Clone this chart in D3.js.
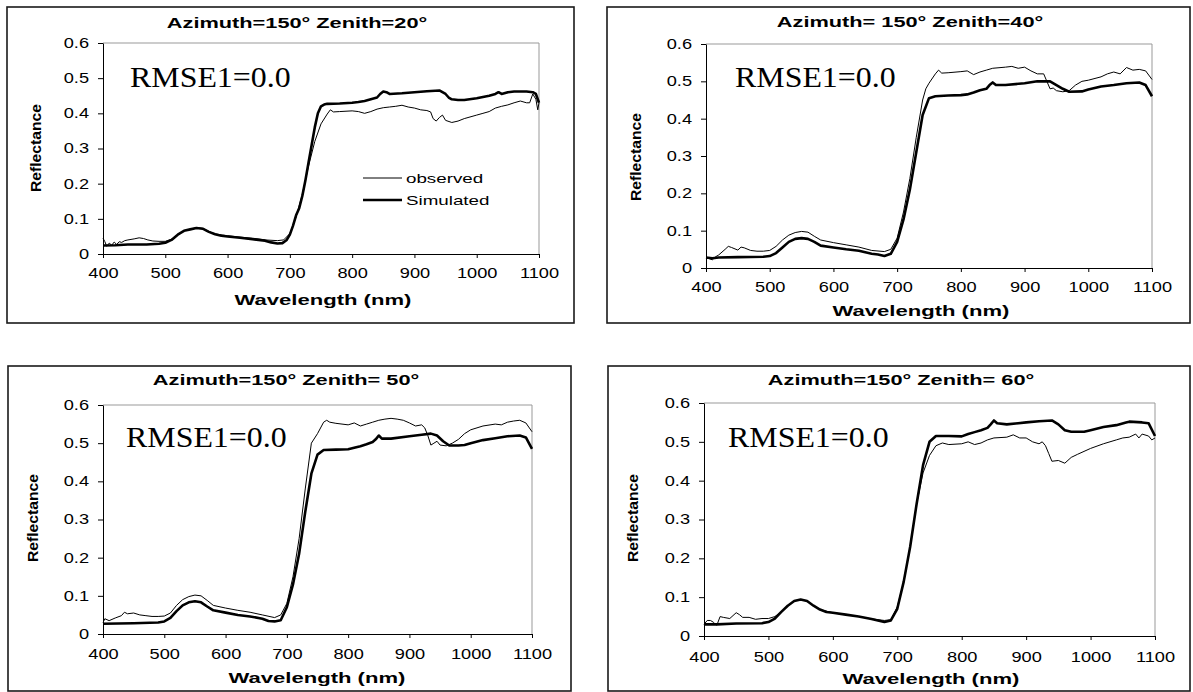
<!DOCTYPE html>
<html>
<head>
<meta charset="utf-8">
<script src="https://cdn.jsdelivr.net/npm/d3@7"></script>
<style>
  body { margin: 0; background: #fff; }
  svg { display: block; }
</style>
</head>
<body>
<div id="chart"></div>
<script>
const width = 1193;
const height = 692;

// shared text / ticks
const titles = [
  "Azimuth=150° Zenith=20°",
  "Azimuth= 150° Zenith=40°",
  "Azimuth=150° Zenith= 50°",
  "Azimuth=150° Zenith= 60°"
];
const xTicks = [400, 500, 600, 700, 800, 900, 1000, 1100];
const yTicks = [0, 0.1, 0.2, 0.3, 0.4, 0.5, 0.6];
const rmseLabel = "RMSE1=0.0";
const legendLabels = ["observed", "Simulated"];

// [wavelength nm, reflectance]
const obs20 = [[400,0.045],[403,0.035],[406,0.022],[410,0.031],[414,0.025],[418,0.034],[422,0.027],[426,0.035],[430,0.033],[435,0.038],[440,0.04],[450,0.043],[458,0.046],[465,0.044],[472,0.04],[480,0.037],[490,0.036],[500,0.036],[510,0.042],[520,0.055],[530,0.066],[540,0.07],[550,0.075],[560,0.073],[570,0.064],[580,0.057],[600,0.052],[620,0.048],[640,0.045],[660,0.04],[680,0.038],[690,0.04],[700,0.058],[710,0.105],[720,0.17],[730,0.25],[740,0.32],[750,0.37],[760,0.398],[765,0.41],[770,0.404],[780,0.405],[800,0.407],[810,0.405],[820,0.4],[830,0.405],[840,0.412],[850,0.416],[860,0.418],[870,0.42],[880,0.423],[890,0.418],[900,0.415],[910,0.41],[920,0.408],[926,0.404],[930,0.385],[935,0.378],[940,0.388],[945,0.395],[950,0.38],[960,0.374],[970,0.378],[980,0.385],[1000,0.395],[1010,0.4],[1020,0.405],[1030,0.415],[1040,0.42],[1050,0.424],[1060,0.43],[1070,0.435],[1080,0.43],[1085,0.43],[1090,0.455],[1095,0.44],[1098,0.41],[1100,0.43]];
const sim20 = [[400,0.024],[420,0.025],[440,0.027],[470,0.027],[490,0.029],[500,0.032],[510,0.04],[520,0.055],[530,0.066],[540,0.07],[550,0.074],[560,0.072],[570,0.063],[580,0.056],[590,0.052],[600,0.05],[620,0.046],[640,0.042],[660,0.038],[670,0.033],[680,0.03],[688,0.031],[695,0.04],[700,0.055],[705,0.08],[710,0.11],[715,0.13],[720,0.165],[725,0.21],[730,0.26],[735,0.31],[740,0.36],[745,0.4],[750,0.42],[755,0.425],[760,0.427],[780,0.428],[800,0.43],[810,0.432],[820,0.435],[830,0.44],[840,0.445],[845,0.455],[850,0.462],[855,0.46],[860,0.455],[880,0.457],[900,0.46],[920,0.463],[940,0.465],[950,0.455],[955,0.445],[960,0.44],[970,0.438],[980,0.438],[1000,0.443],[1020,0.45],[1030,0.455],[1035,0.46],[1040,0.455],[1050,0.46],[1060,0.462],[1080,0.462],[1090,0.46],[1095,0.455],[1100,0.43]];

const obs40 = [[400,0.028],[405,0.025],[410,0.022],[415,0.03],[420,0.035],[430,0.05],[435,0.058],[440,0.055],[450,0.048],[455,0.056],[460,0.054],[470,0.047],[480,0.045],[490,0.045],[500,0.047],[510,0.058],[520,0.075],[530,0.088],[540,0.095],[550,0.098],[560,0.096],[570,0.085],[580,0.075],[600,0.068],[620,0.062],[640,0.056],[660,0.047],[680,0.044],[690,0.05],[700,0.08],[710,0.15],[720,0.24],[730,0.35],[740,0.45],[745,0.48],[750,0.495],[760,0.52],[765,0.53],[770,0.522],[780,0.523],[800,0.526],[810,0.528],[820,0.518],[830,0.525],[840,0.53],[850,0.535],[870,0.538],[880,0.54],[890,0.535],[900,0.538],[910,0.528],[920,0.52],[930,0.52],[935,0.5],[940,0.48],[945,0.482],[950,0.475],[960,0.472],[970,0.475],[980,0.49],[990,0.5],[1000,0.503],[1020,0.512],[1030,0.52],[1040,0.525],[1050,0.52],[1060,0.537],[1070,0.53],[1080,0.532],[1090,0.528],[1100,0.505]];
const sim40 = [[400,0.028],[410,0.026],[420,0.028],[450,0.029],[490,0.03],[500,0.032],[510,0.04],[520,0.055],[530,0.07],[540,0.078],[550,0.08],[560,0.078],[570,0.07],[580,0.06],[600,0.055],[620,0.05],[640,0.046],[660,0.038],[670,0.036],[680,0.032],[690,0.038],[700,0.07],[710,0.13],[720,0.21],[730,0.31],[740,0.41],[750,0.455],[760,0.46],[780,0.462],[800,0.463],[810,0.465],[820,0.47],[830,0.476],[840,0.48],[845,0.49],[850,0.497],[855,0.49],[870,0.49],[900,0.495],[920,0.5],[940,0.5],[950,0.49],[960,0.48],[970,0.472],[990,0.473],[1000,0.478],[1020,0.486],[1040,0.49],[1060,0.495],[1080,0.497],[1090,0.49],[1100,0.46]];

const obs50 = [[400,0.03],[403,0.04],[410,0.035],[420,0.042],[430,0.048],[435,0.057],[440,0.053],[450,0.055],[460,0.05],[470,0.048],[480,0.046],[490,0.046],[500,0.047],[510,0.055],[520,0.075],[530,0.09],[540,0.098],[550,0.102],[560,0.1],[570,0.088],[580,0.075],[600,0.068],[620,0.062],[640,0.057],[660,0.05],[680,0.043],[690,0.05],[700,0.08],[710,0.15],[720,0.25],[730,0.38],[740,0.5],[750,0.525],[760,0.555],[765,0.56],[770,0.555],[780,0.552],[800,0.548],[810,0.553],[820,0.545],[830,0.55],[840,0.555],[850,0.56],[860,0.563],[870,0.565],[880,0.563],[890,0.56],[900,0.553],[910,0.545],[920,0.548],[925,0.54],[930,0.52],[935,0.495],[940,0.5],[945,0.505],[950,0.495],[960,0.493],[970,0.5],[980,0.51],[990,0.525],[1000,0.535],[1020,0.545],[1040,0.55],[1050,0.548],[1060,0.555],[1070,0.558],[1080,0.56],[1090,0.553],[1100,0.53]];
const sim50 = [[400,0.027],[450,0.028],[490,0.03],[500,0.033],[510,0.042],[520,0.06],[530,0.075],[540,0.083],[550,0.086],[560,0.083],[570,0.072],[580,0.062],[600,0.056],[620,0.05],[640,0.046],[660,0.04],[670,0.034],[680,0.033],[690,0.036],[700,0.07],[710,0.13],[720,0.21],[730,0.32],[740,0.42],[750,0.47],[760,0.482],[780,0.483],[800,0.484],[810,0.488],[820,0.492],[830,0.497],[840,0.503],[845,0.51],[850,0.52],[855,0.512],[870,0.512],[900,0.518],[920,0.522],[935,0.525],[945,0.52],[955,0.505],[965,0.494],[980,0.494],[990,0.495],[1000,0.5],[1020,0.508],[1040,0.513],[1060,0.518],[1080,0.52],[1090,0.515],[1100,0.485]];

const obs60 = [[400,0.03],[405,0.04],[410,0.04],[415,0.035],[418,0.03],[420,0.028],[425,0.05],[430,0.048],[440,0.045],[450,0.06],[455,0.055],[460,0.048],[470,0.048],[480,0.043],[490,0.045],[500,0.045],[510,0.05],[520,0.062],[530,0.078],[540,0.09],[550,0.094],[560,0.09],[570,0.078],[580,0.068],[600,0.06],[620,0.055],[640,0.05],[660,0.044],[680,0.04],[690,0.042],[700,0.075],[710,0.14],[720,0.23],[730,0.34],[740,0.42],[750,0.465],[760,0.49],[770,0.497],[780,0.493],[800,0.495],[810,0.5],[820,0.493],[830,0.497],[840,0.505],[850,0.51],[870,0.512],[880,0.518],[890,0.51],[900,0.51],[910,0.5],[920,0.495],[925,0.5],[930,0.49],[935,0.47],[940,0.45],[950,0.452],[960,0.445],[970,0.46],[980,0.468],[1000,0.483],[1020,0.495],[1040,0.505],[1050,0.51],[1060,0.512],[1070,0.52],[1075,0.51],[1080,0.52],[1090,0.515],[1095,0.505],[1100,0.51]];
const sim60 = [[400,0.03],[420,0.03],[450,0.032],[490,0.033],[500,0.036],[510,0.045],[520,0.062],[530,0.078],[540,0.09],[550,0.094],[560,0.09],[570,0.078],[580,0.068],[590,0.062],[600,0.06],[620,0.055],[640,0.05],[660,0.044],[670,0.04],[680,0.036],[690,0.04],[700,0.07],[710,0.14],[720,0.23],[730,0.34],[740,0.44],[750,0.5],[760,0.515],[780,0.515],[800,0.514],[810,0.52],[820,0.525],[830,0.53],[840,0.536],[845,0.545],[850,0.555],[855,0.548],[870,0.545],[900,0.55],[920,0.553],[940,0.555],[950,0.545],[960,0.53],[970,0.526],[990,0.526],[1000,0.53],[1020,0.538],[1040,0.543],[1055,0.55],[1060,0.552],[1080,0.55],[1090,0.548],[1100,0.515]];

const observed = [obs20, obs40, obs50, obs60];
const simulated = [sim20, sim40, sim50, sim60];

// where each panel sits on the page
const layout = [
  {frame: [7, 7, 574, 323], px: [103, 539], py: [254, 43], title: [297, 23], rmse: [130, 87], xlab: 273, xtitle: [323, 300], ytitle: [36, 148]},
  {frame: [607, 7, 1190, 323], px: [706, 1152], py: [268, 44], title: [910, 22], rmse: [735, 87], xlab: 287, xtitle: [921, 311], ytitle: [636, 157]},
  {frame: [8, 366, 571, 691], px: [103, 532], py: [634, 405], title: [286, 380], rmse: [126, 447], xlab: 654, xtitle: [317, 678], ytitle: [33, 518]},
  {frame: [608, 366, 1190, 691], px: [704, 1155], py: [636, 403], title: [901, 380], rmse: [728, 447], xlab: 657, xtitle: [931, 679], ytitle: [633, 518]}
];
const legendPos = [363, 178];

const sans = "Liberation Sans, Arial, sans-serif";
const serif = "Liberation Serif, Times New Roman, serif";

const svg = d3.select("#chart").append("svg")
  .attr("width", width).attr("height", height);

// the source picture is stretched sideways, so widen text to match
function stretch(sel, k) {
  sel.each(function() {
    const len = this.getComputedTextLength();
    d3.select(this).attr("textLength", len * k).attr("lengthAdjust", "spacingAndGlyphs");
  });
}

layout.forEach((L, i) => {
  const g = svg.append("g");

  g.append("rect")
    .attr("x", L.frame[0]).attr("y", L.frame[1])
    .attr("width", L.frame[2] - L.frame[0]).attr("height", L.frame[3] - L.frame[1])
    .attr("fill", "none").attr("stroke", "#1a1a1a").attr("stroke-width", 1.6);

  const x = d3.scaleLinear().domain([400, 1100]).range(L.px);
  const y = d3.scaleLinear().domain([0, 0.6]).range(L.py);

  // grey top/right edge of plot area
  g.append("path")
    .attr("d", `M${L.px[0]},${L.py[1]}H${L.px[1]}V${L.py[0]}`)
    .attr("fill", "none").attr("stroke", "#999").attr("stroke-width", 1);

  const xa = g.append("g")
    .attr("transform", `translate(0,${L.py[0]})`)
    .call(d3.axisBottom(x).tickValues(xTicks).tickFormat(d3.format("d")).tickSize(4).tickSizeOuter(0));
  xa.selectAll("text")
    .attr("y", L.xlab - L.py[0]).attr("dy", "0.35em")
    .attr("fill", "#000");

  const ya = g.append("g")
    .attr("transform", `translate(${L.px[0]},0)`)
    .call(d3.axisLeft(y).tickValues(yTicks).tickFormat(d3.format("")).tickSize(5).tickPadding(9).tickSizeOuter(0));
  ya.selectAll("text").attr("fill", "#000");

  [xa, ya].forEach(a => {
    a.attr("font-family", sans).attr("font-size", 14);
    a.select(".domain").attr("stroke", "#000");
    a.selectAll(".tick line").attr("stroke", "#000");
  });
  stretch(xa.selectAll("text"), 1.3);
  stretch(ya.selectAll("text"), 1.3);

  const line = d3.line().x(d => x(d[0])).y(d => y(d[1]));

  g.append("path").datum(observed[i])
    .attr("d", line).attr("fill", "none")
    .attr("stroke", "#000").attr("stroke-width", 1).attr("stroke-linejoin", "round");
  g.append("path").datum(simulated[i])
    .attr("d", line).attr("fill", "none")
    .attr("stroke", "#000").attr("stroke-width", 2.6).attr("stroke-linejoin", "round");

  // title
  const t = g.append("text")
    .attr("x", L.title[0]).attr("y", L.title[1]).attr("dy", "0.35em")
    .attr("text-anchor", "middle")
    .attr("font-family", sans).attr("font-weight", "bold").attr("font-size", 15)
    .text(titles[i]);
  stretch(t, 1.45);

  // axis titles
  const xt = g.append("text")
    .attr("x", L.xtitle[0]).attr("y", L.xtitle[1]).attr("dy", "0.35em")
    .attr("text-anchor", "middle")
    .attr("font-family", sans).attr("font-weight", "bold").attr("font-size", 15)
    .text("Wavelength (nm)");
  stretch(xt, 1.47);

  g.append("text")
    .attr("transform", `translate(${L.ytitle[0]},${L.ytitle[1]}) rotate(-90)`)
    .attr("dy", "0.35em")
    .attr("text-anchor", "middle")
    .attr("font-family", sans).attr("font-weight", "bold").attr("font-size", 14)
    .attr("textLength", 88).attr("lengthAdjust", "spacingAndGlyphs")
    .text("Reflectance");

  const r = g.append("text")
    .attr("x", L.rmse[0]).attr("y", L.rmse[1])
    .attr("font-family", serif).attr("font-size", 29)
    .text(rmseLabel);
  stretch(r, 1.1);

  if (i === 0) {
    const lg = g.append("g");
    legendLabels.forEach((lab, j) => {
      const ly = legendPos[1] + j * 22;
      lg.append("line")
        .attr("x1", legendPos[0]).attr("x2", legendPos[0] + 39)
        .attr("y1", ly).attr("y2", ly)
        .attr("stroke", "#000").attr("stroke-width", j === 0 ? 1 : 2.6);
      const lt = lg.append("text")
        .attr("x", legendPos[0] + 43).attr("y", ly).attr("dy", "0.35em")
        .attr("font-family", sans).attr("font-size", 13.5)
        .text(lab);
      stretch(lt, 1.39);
    });
  }
});
</script>
</body>
</html>
